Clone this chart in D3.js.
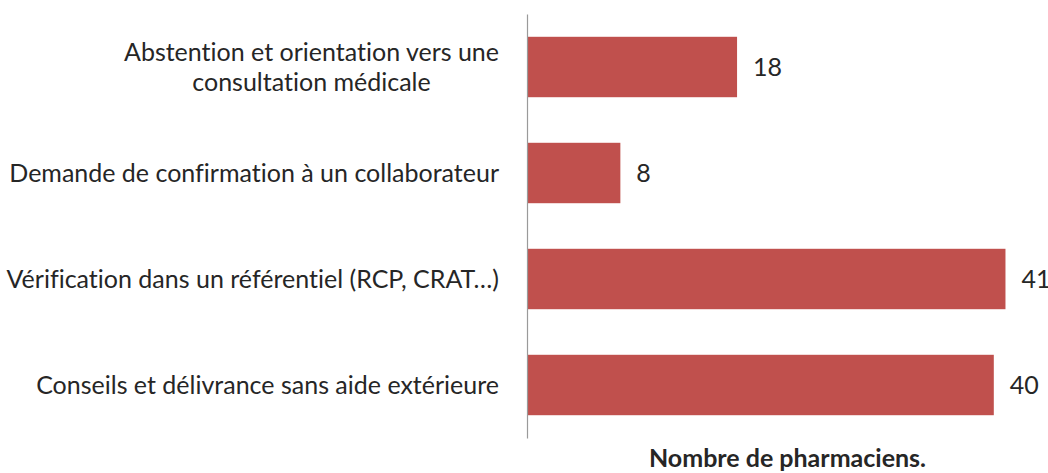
<!DOCTYPE html>
<html>
<head>
<meta charset="utf-8">
<script src="https://cdn.jsdelivr.net/npm/d3@7"></script>
<style>
  body { margin: 0; background: #fff; }
  svg text { font-family: Lato, "Open Sans", sans-serif; fill: #262626; font-feature-settings: "liga" 0, "clig" 0; font-variant-ligatures: none; }
</style>
</head>
<body>
<svg id="chart" width="1048" height="473"></svg>
<script>
// categories (top to bottom), "\n" marks a line break in the label
const categories = [
  "Abstention et orientation vers une\nconsultation médicale",
  "Demande de confirmation à un collaborateur",
  "Vérification dans un référentiel (RCP, CRAT…)",
  "Conseils et délivrance sans aide extérieure"
];
const values = [18, 8, 41, 40];
const axisTitle = "Nombre de pharmaciens.";

const width = 1048, height = 473;
const margin = {top: 14, right: 0, bottom: 35, left: 527};
const fontSize = 25;
const lineGap = 30;

const svg = d3.select("#chart");

const x = d3.scaleLinear()
  .domain([0, 45])
  .range([margin.left, margin.left + 45 * 11.67]);

const y = d3.scaleBand()
  .domain(d3.range(categories.length))
  .range([margin.top, height - margin.bottom])
  .paddingInner(0.43)
  .paddingOuter(0.215);

// bars
svg.selectAll(".bar")
  .data(values)
  .enter().append("rect")
    .attr("class", "bar")
    .attr("x", x(0))
    .attr("y", (d, i) => y(i))
    .attr("width", d => x(d) - x(0))
    .attr("height", y.bandwidth())
    .attr("fill", "#C0504D");

// value labels
svg.selectAll(".val")
  .data(values)
  .enter().append("text")
    .attr("class", "val")
    .attr("x", d => x(d) + 16)
    .attr("y", (d, i) => y(i) + y.bandwidth() / 2)
    .attr("dy", "0.35em")
    .style("font-size", fontSize + "px")
    .text(d => d);

// vertical axis line
const yAxis = d3.axisLeft(y).tickSize(0).tickFormat("");
svg.append("g")
  .attr("transform", "translate(" + x(0) + ",0)")
  .call(yAxis)
  .call(g => g.select(".domain").attr("stroke", "#9a9a9a").attr("stroke-width", 1.2));

// category labels, right edge near the axis, multi-line ones centred
const labelRight = x(0) - 28;
svg.selectAll(".cat")
  .data(categories)
  .enter().append("text")
    .attr("class", "cat")
    .style("font-size", fontSize + "px")
    .each(function(d, i) {
      const self = d3.select(this);
      const lines = d.split("\n");
      const cy = y(i) + y.bandwidth() / 2;
      lines.forEach((ln, j) => {
        self.append("tspan")
          .attr("y", cy + (j - (lines.length - 1) / 2) * lineGap)
          .attr("dy", "0.35em")
          .text(ln);
      });
      if (lines.length > 1) {
        let maxW = 0;
        self.selectAll("tspan").each(function() {
          maxW = Math.max(maxW, this.getComputedTextLength());
        });
        self.attr("text-anchor", "middle");
        self.selectAll("tspan").attr("x", labelRight - maxW / 2);
      } else {
        self.attr("text-anchor", "end");
        self.selectAll("tspan").attr("x", labelRight);
      }
    });

// axis title
svg.append("text")
  .attr("x", (x(0) + width) / 2)
  .attr("y", 467)
  .attr("text-anchor", "middle")
  .style("font-size", fontSize + "px")
  .style("font-weight", "bold")
  .text(axisTitle);
</script>
</body>
</html>
